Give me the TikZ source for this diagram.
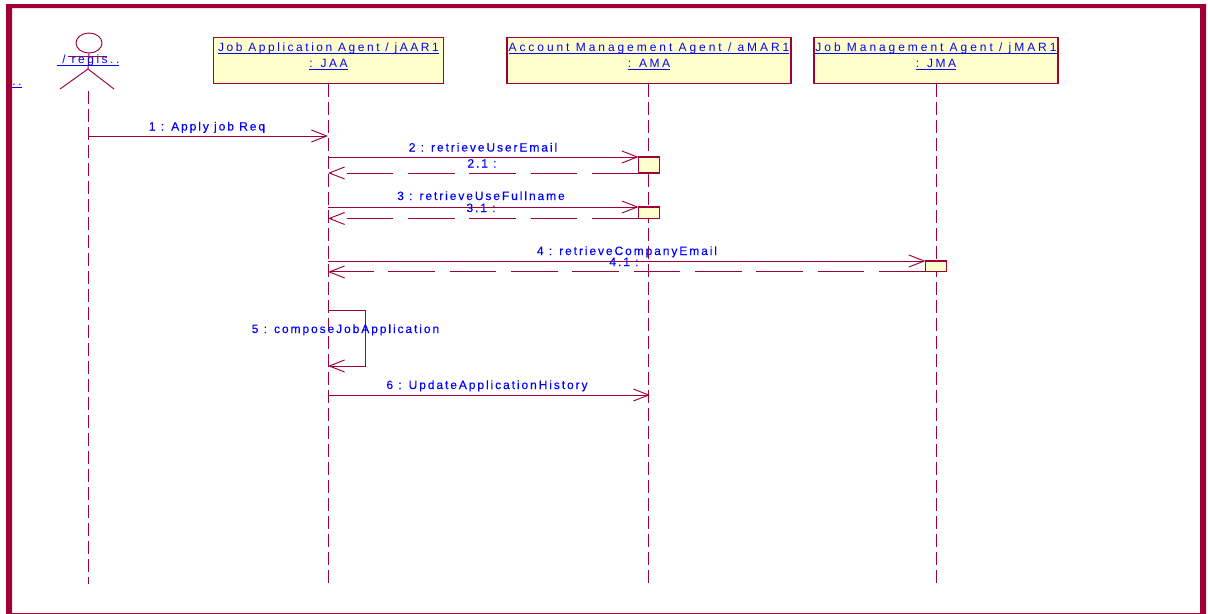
\documentclass[tikz,border=0pt]{standalone}
\usepackage{fontspec}
\setmainfont{Liberation Sans}
\newfontfamily\umlfont[LetterSpace=21]{Liberation Sans}
\newfontfamily\umlwidefont[LetterSpace=24.5]{Liberation Sans}
\newfontfamily\msgfont[LetterSpace=16,FakeBold=0.15]{Liberation Sans}
\usetikzlibrary{arrows.meta,shapes.geometric}
\definecolor{umlred}{HTML}{A00034}
\definecolor{umlfill}{HTML}{FFFFCC}
\definecolor{umlblue}{HTML}{0000FF}
\newcommand{\umlline}[1]{\underline{\raisebox{0pt}[\height][0pt]{#1}}}
\newcommand{\objtext}[2]{\umlline{#1}\\[0.6pt]\umlline{#2}\rule[-8pt]{0pt}{1pt}}
\tikzset{
    >={Straight Barb[length=11.5pt,width=9pt,line width=0.7pt]},
    objbox/.style={draw=umlred,fill=umlfill,line width=0.8pt,minimum height=34.5pt,inner sep=0pt,outer sep=0pt,
        text=umlblue,font=\umlfont\fontsize{9}{11.6}\selectfont,align=center,anchor=north},
    lifeline/.style={draw=umlred,line width=0.7pt,dash pattern=on 10pt off 3.5pt},
    actbox/.style={draw=umlred,fill=umlfill,line width=0.8pt,inner sep=0pt,outer sep=0pt,minimum width=16pt,anchor=north west},
    msg/.style={draw=umlred,line width=0.7pt,->},
    retmsg/.style={draw=umlred,line width=0.7pt,->,dash pattern=on 35pt off 11pt},
    msglabel/.style={text=umlblue,inner sep=0pt,anchor=base,font=\msgfont\fontsize{9}{10}\selectfont},
    namelabel/.style={text=umlblue,inner sep=0pt,anchor=base,font=\umlfont\fontsize{9}{10}\selectfont},
}
\begin{document}
\begin{tikzpicture}[x=0.75pt,y=-0.75pt]
    \useasboundingbox (0,0) rectangle (1208,614);
    \fill[white] (0,0) rectangle (1208,614);
    \fill[umlred,even odd rule] (6,4) rectangle (1206,614) (12,8) rectangle (1200,613);
    % objects
    \path (328.5,37.5) node[objbox,minimum width=173pt] (jaa) {\objtext{Job Application Agent / jAAR1}{: JAA}};
    \path (649,37.5) node[objbox,minimum width=213pt] (ama) {\umlwidefont\objtext{Account Management Agent / aMAR1}{: AMA}};
    \path (936,37.5) node[objbox,minimum width=183pt] (jma) {\umlwidefont\objtext{Job Management Agent / jMAR1}{: JMA}};
    % actor
    \path (89,43) node[draw=umlred,line width=0.7pt,ellipse,minimum width=19.5pt,minimum height=15pt,inner sep=0pt] (head) {};
    \path (88,69) coordinate (hip);
    \path (60,89) coordinate (lfoot);
    \path (114,89) coordinate (rfoot);
    \path (68,56.5) coordinate (larm);
    \path (107,56.5) coordinate (rarm);
    \draw[umlred,line width=0.7pt] (head.south) -- (hip);
    \draw[umlred,line width=0.7pt] (larm) -- (rarm);
    \draw[umlred,line width=0.7pt] (lfoot) -- (hip) -- (rfoot);
    \path (88,63.5) node[namelabel] (actorname) {\umlline{ / regis..}};
    \path (17,85.5) node[namelabel] (dots) {\umlline{..}};
    % lifelines
    \path (88,91) coordinate (actortop);
    \path (88,584) coordinate (actorend);
    \path (328,584) coordinate (jaaend);
    \path (648,584) coordinate (amaend);
    \path (936,584) coordinate (jmaend);
    \draw[lifeline] (actortop) -- (actorend);
    \draw[lifeline] (jaa.south -| jaaend) -- (jaaend);
    \draw[lifeline] (ama.south -| amaend) -- (amaend);
    \draw[lifeline] (jma.south -| jmaend) -- (jmaend);
    % activations
    \path (638.5,157) node[actbox,minimum height=12pt] (act2) {};
    \path (638.5,207) node[actbox,minimum height=8.6pt] (act3) {};
    \path (925.5,261) node[actbox,minimum height=8.2pt] (act4) {};
    % messages
    \path (88,136) coordinate (m1a);
    \path (328,136) coordinate (m1b);
    \path (365,310) coordinate (m5c);
    \path (365,366) coordinate (m5d);
    \path (328,310) coordinate (m5a);
    \path (328,366) coordinate (m5b);
    \path (328,395) coordinate (m6a);
    \path (650,395) coordinate (m6b);
    \draw[msg] (m1a) -- (m1b);
    \draw[msg] (act2.north west -| jaaend) -- (act2.north west);
    \draw[retmsg] (act2.south west) -- (act2.south west -| jaaend);
    \draw[msg] (act3.north west -| jaaend) -- (act3.north west);
    \draw[retmsg] (act3.south west) -- (act3.south west -| jaaend);
    \draw[msg] (act4.north west -| jaaend) -- (act4.north west);
    \draw[retmsg] (act4.south west) -- (act4.south west -| jaaend);
    \draw[msg] (m5a) -- (m5c) -- (m5d) -- (m5b);
    \draw[msg] (m6a) -- (m6b);
    % labels
    \path (207,130.5) node[msglabel] (l1) {1 : Apply job Req};
    \path (483,151.5) node[msglabel] (l2) {2 : retrieveUserEmail};
    \path (482,167.5) node[msglabel] (l21) {2.1 :};
    \path (481,200) node[msglabel] (l3) {3 : retrieveUseFullname};
    \path (481,212) node[msglabel] (l31) {3.1 :};
    \path (627,255) node[msglabel] (l4) {4 : retrieveCompanyEmail};
    \path (624,266) node[msglabel] (l41) {4.1 :};
    \path (345.5,333) node[msglabel] (l5) {5 : composeJobApplication};
    \path (487,389) node[msglabel] (l6) {6 : UpdateApplicationHistory};
\end{tikzpicture}
\end{document}
